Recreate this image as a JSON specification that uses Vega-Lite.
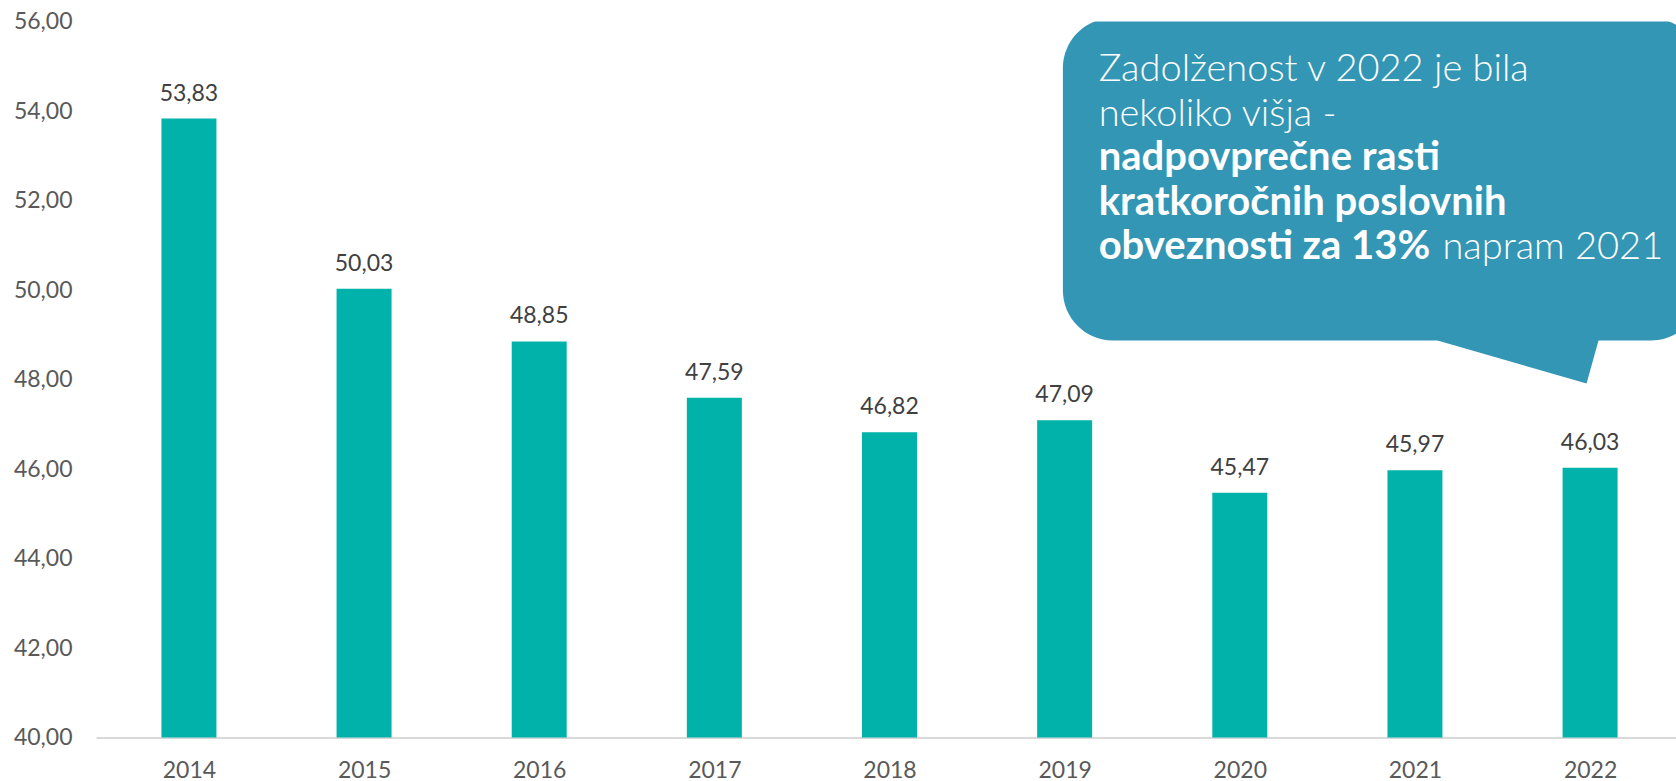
{
  "$schema": "https://vega.github.io/schema/vega-lite/v6.json",
  "width": 1580,
  "height": 716,
  "autosize": {"type": "none"},
  "padding": {"left": 96, "top": 21.5, "right": 0, "bottom": 43.5},
  "background": "white",
  "config": {
    "view": {"stroke": null},
    "locale": {"number": {"decimal": ",", "thousands": ".", "grouping": [3], "currency": ["", " €"]}},
    "font": "Lato"
  },
  "datasets": {
    "bars": [
      {"year": 2014, "value": 53.83},
      {"year": 2015, "value": 50.03},
      {"year": 2016, "value": 48.85},
      {"year": 2017, "value": 47.59},
      {"year": 2018, "value": 46.82},
      {"year": 2019, "value": 47.09},
      {"year": 2020, "value": 45.47},
      {"year": 2021, "value": 45.97},
      {"year": 2022, "value": 46.03}
    ],
    "bubble": [
      {"year": 2018.99, "year2": 2022.633, "value": 56.078, "value2": 48.872}
    ],
    "tail": [
      {"year": 2021.129, "value": 48.872, "value2": 49.0},
      {"year": 2021.98, "value": 47.911, "value2": 49.0},
      {"year": 2022.048, "value": 48.872, "value2": 49.0}
    ],
    "note": [
      {"year": 2019.194, "value": 54.67, "text": "Zadolženost v 2022 je bila", "kind": "normal"},
      {"year": 2019.194, "value": 53.665, "text": "nekoliko višja  -", "kind": "normal"},
      {"year": 2019.194, "value": 52.682, "text": "nadpovprečne rasti", "kind": "bold"},
      {"year": 2019.194, "value": 51.676, "text": "kratkoročnih poslovnih", "kind": "bold"},
      {"year": 2019.194, "value": 50.693, "text": "obveznosti za 13%", "kind": "bold"},
      {"year": 2021.157, "value": 50.693, "text": "napram 2021", "kind": "normal"}
    ]
  },
  "encoding": {
    "x": {
      "field": "year",
      "type": "quantitative",
      "scale": {"domain": [2013.498, 2022.462], "nice": false, "zero": false},
      "axis": {
        "title": null,
        "values": [2014, 2015, 2016, 2017, 2018, 2019, 2020, 2021, 2022],
        "format": "d",
        "ticks": false,
        "grid": false,
        "domainColor": "#D9D9D9",
        "domainWidth": 2,
        "labelFont": "Lato",
        "labelFontSize": 23,
        "labelColor": "#595959",
        "labelBaseline": "alphabetic",
        "labelPadding": 39.5,
        "labelFlush": false
      }
    },
    "y": {
      "field": "value",
      "type": "quantitative",
      "scale": {"domain": [40, 56], "nice": false, "zero": false},
      "axis": {
        "title": null,
        "values": [40, 42, 44, 46, 48, 50, 52, 54, 56],
        "format": ".2f",
        "ticks": false,
        "grid": false,
        "domain": false,
        "labelFont": "Lato",
        "labelFontSize": 23,
        "labelColor": "#595959",
        "labelPadding": 24
      }
    }
  },
  "layer": [
    {
      "data": {"name": "bubble"},
      "mark": {"type": "rect", "color": "#3296B4", "cornerRadius": 50, "clip": true},
      "encoding": {
        "x2": {"field": "year2"},
        "y2": {"field": "value2"}
      }
    },
    {
      "data": {"name": "tail"},
      "mark": {"type": "area", "color": "#3296B4", "orient": "vertical", "opacity": 1},
      "encoding": {
        "y2": {"field": "value2"}
      }
    },
    {
      "data": {"name": "bars"},
      "mark": {"type": "bar", "color": "#00B2A9", "width": 55},
      "encoding": {
        "y2": {"datum": 40}
      }
    },
    {
      "data": {"name": "bars"},
      "mark": {"type": "text", "font": "Lato", "fontSize": 23, "color": "#404040", "baseline": "alphabetic", "align": "center", "dy": -18},
      "encoding": {
        "text": {"field": "value", "type": "quantitative", "format": ".2f"}
      }
    },
    {
      "data": {"name": "note"},
      "transform": [{"filter": "datum.kind === 'normal'"}],
      "mark": {"type": "text", "font": "Lato", "fontSize": 38, "fontWeight": 300, "color": "white", "baseline": "alphabetic", "align": "left"},
      "encoding": {
        "text": {"field": "text"}
      }
    },
    {
      "data": {"name": "note"},
      "transform": [{"filter": "datum.kind === 'bold'"}],
      "mark": {"type": "text", "font": "Lato", "fontSize": 40, "fontWeight": "bold", "color": "white", "baseline": "alphabetic", "align": "left"},
      "encoding": {
        "text": {"field": "text"}
      }
    }
  ]
}
